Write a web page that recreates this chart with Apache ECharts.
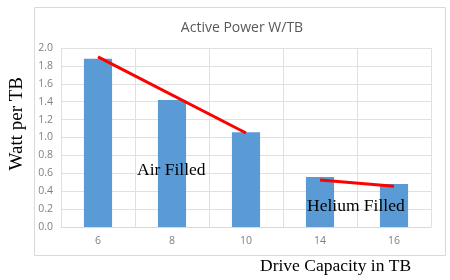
<!DOCTYPE html>
<html><head><meta charset="utf-8">
<script src="https://cdn.jsdelivr.net/npm/echarts@6/dist/echarts.min.js"></script>
<style>html,body{margin:0;padding:0;background:#fff}#c{width:450px;height:280px}</style>
</head><body><div id="c"></div>
<script>
const categories = ['6', '8', '10', '14', '16'];
const wattPerTB = [1.88, 1.42, 1.06, 0.56, 0.48];
const airTrend = [[0, 1.90], [2, 1.05]];
const heliumTrend = [[3, 0.525], [4, 0.455]];
const yTicks = { min: 0, max: 2, interval: 0.2 };

const chart = echarts.init(document.getElementById('c'));
const serif = '"Liberation Serif", "DejaVu Serif", serif';
chart.setOption({
  animation: false,
  backgroundColor: '#fff',
  title: {
    text: 'Active Power W/TB', left: 237, top: 16, textAlign: 'center',
    textStyle: { fontFamily: 'Open Sans, sans-serif', fontSize: 14, fontWeight: 'normal', color: '#595959' }
  },
  grid: { left: 61, right: 19, top: 48, bottom: 53 },
  xAxis: {
    type: 'category', data: categories,
    axisLine: { lineStyle: { color: '#d9d9d9' } },
    axisTick: { show: false },
    axisLabel: { color: '#808080', fontSize: 10.5, margin: 9, fontFamily: 'Open Sans, sans-serif' },
    splitLine: { show: true, lineStyle: { color: '#e0e0e0' } }
  },
  yAxis: {
    type: 'value', min: yTicks.min, max: yTicks.max, interval: yTicks.interval,
    axisLine: { show: false }, axisTick: { show: false },
    axisLabel: { color: '#808080', fontSize: 10.5, margin: 8, fontFamily: 'Open Sans, sans-serif',
      formatter: v => v.toFixed(1) },
    splitLine: { lineStyle: { color: '#e0e0e0' } }
  },
  graphic: [
    { type: 'rect', left: 32, top: 5, shape: { width: 411, height: 248 }, silent: true, z: -10,
      style: { fill: 'none', stroke: '#d9d9d9', lineWidth: 1 } },
    { type: 'text', left: 8, top: 77, rotation: Math.PI / 2, z: 10,
      style: { text: 'Watt per TB', font: '19px ' + serif, fill: '#000' } },
    { type: 'text', left: 260, top: 257, z: 10,
      style: { text: 'Drive Capacity in TB', font: '17.5px ' + serif, fill: '#000' } },
    { type: 'text', left: 137, top: 161, z: 10,
      style: { text: 'Air Filled', font: '17.5px ' + serif, fill: '#000' } },
    { type: 'text', left: 307, top: 197, z: 10,
      style: { text: 'Helium Filled', font: '17.5px ' + serif, fill: '#000' } }
  ],
  series: [
    { type: 'bar', data: wattPerTB, barWidth: '38%', itemStyle: { color: '#5b9bd5' } },
    { type: 'line', data: airTrend, symbol: 'none', lineStyle: { color: '#ff0000', width: 3 } },
    { type: 'line', data: heliumTrend, symbol: 'none', lineStyle: { color: '#ff0000', width: 3 } }
  ]
});
</script></body></html>
